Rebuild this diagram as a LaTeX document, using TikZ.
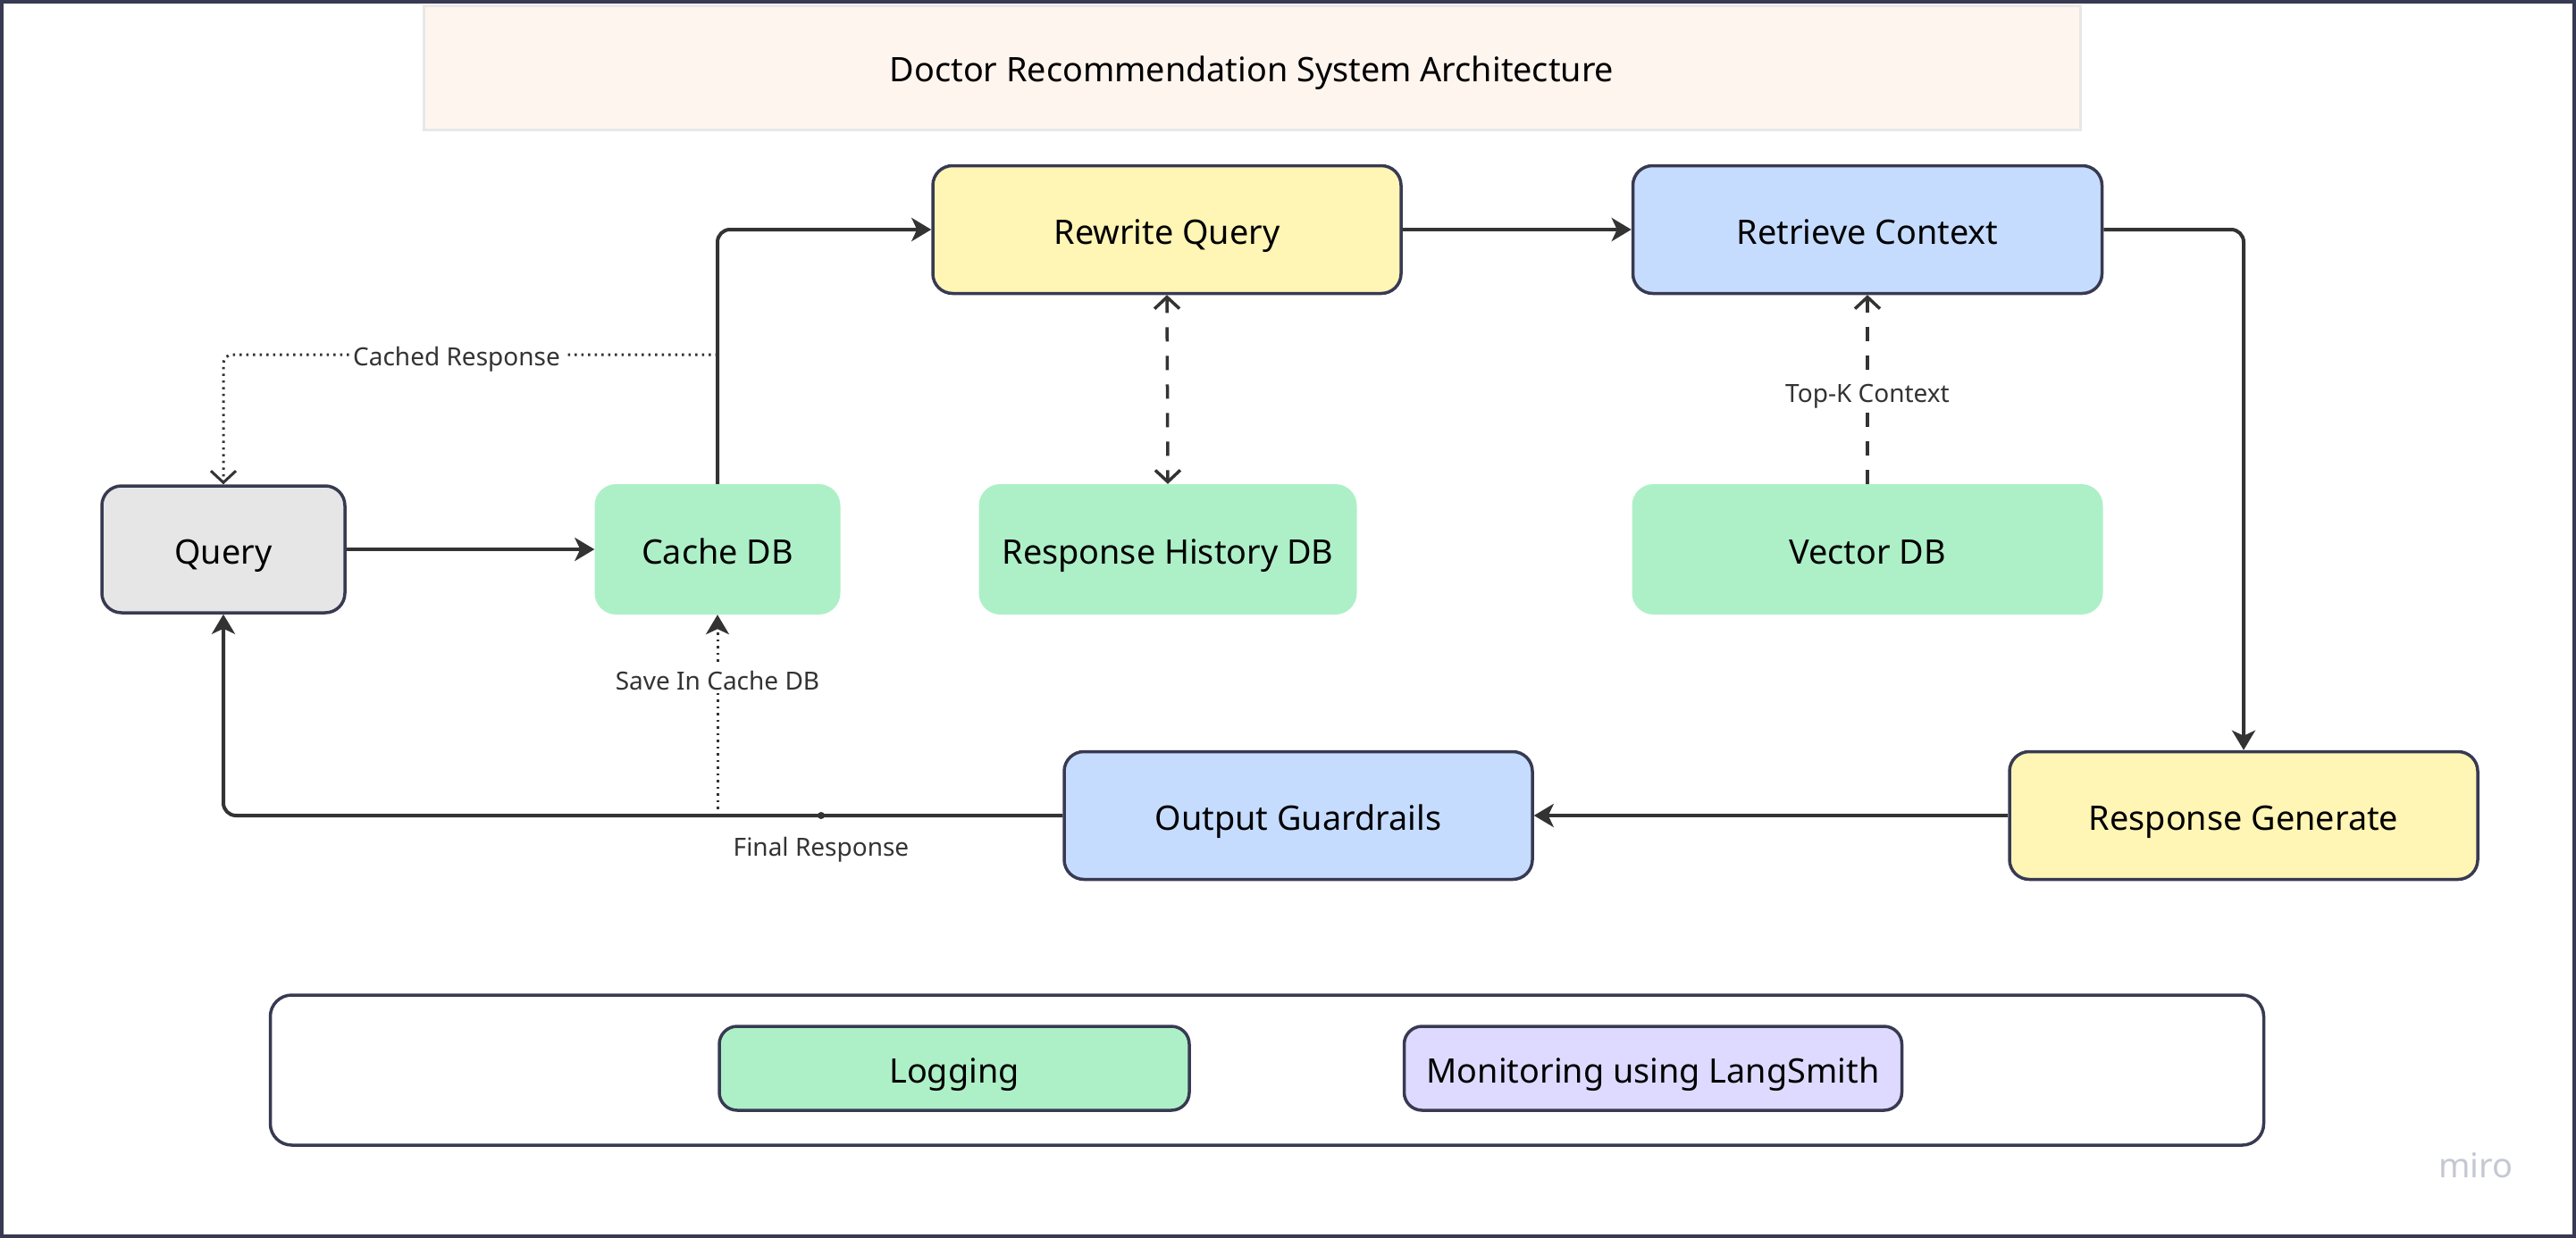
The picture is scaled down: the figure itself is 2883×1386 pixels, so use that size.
\documentclass[tikz,border=0pt]{standalone}
\usepackage{fontspec}
\setmainfont{Noto Sans}
\usetikzlibrary{arrows.meta}
\definecolor{bord}{HTML}{383A52}
\definecolor{arr}{HTML}{333333}
\definecolor{cyel}{HTML}{FFF5B5}
\definecolor{cblue}{HTML}{C6DCFF}
\definecolor{cgreen}{HTML}{ADF0C7}
\definecolor{cgray}{HTML}{E6E6E6}
\definecolor{clav}{HTML}{DEDAFF}
\definecolor{ctitle}{HTML}{FFF5EF}
\definecolor{ctitleb}{HTML}{E8E8E8}
\definecolor{cmiro}{HTML}{C5C8D3}
\tikzset{
  bigtext/.style={font=\fontsize{37.8}{42}\selectfont, text=black, text height=32pt, text depth=0pt},
  box/.style={rectangle, rounded corners=22pt, draw=bord, line width=3.5pt, bigtext, inner sep=0pt},
  dbbox/.style={rectangle, rounded corners=24pt, fill=cgreen, bigtext, inner sep=0pt},
  lbl/.style={font=\fontsize{28}{32}\selectfont, text=arr, fill=white, inner sep=4pt, text height=24pt, text depth=0pt},
  mainarrow/.style={draw=arr, line width=4pt, -{Stealth[length=22pt,width=26pt,inset=6pt]}},
  dotline/.style={draw=arr, line width=3pt, dash pattern=on 2.5pt off 5pt},
  dashline/.style={draw=arr, line width=3.5pt, dash pattern=on 16pt off 16pt},
  openhead/.tip={Straight Barb[length=13pt,width=28pt]},
  solidhead/.tip={Stealth[length=22pt,width=26pt,inset=6pt]},
}
\begin{document}
\begin{tikzpicture}[x=1pt,y=-1pt]
\useasboundingbox (0,0) rectangle (2883,1386);
\draw[bord, line width=4pt] (2,2) rectangle (2881,1384);

% title
\node[rectangle, fill=ctitle, draw=ctitleb, line width=3pt, minimum width=1854pt, minimum height=139pt,
  bigtext, inner sep=0pt] (title) at (1401,76) {Doctor Recommendation System Architecture};

% nodes
\node[box, fill=cgray, minimum width=272pt, minimum height=142pt] (query) at (250,615) {Query};
\node[dbbox, minimum width=275pt, minimum height=146pt] (cache) at (803,615) {Cache DB};
\node[dbbox, minimum width=423pt, minimum height=146pt] (hist) at (1307,615) {Response History DB};
\node[dbbox, minimum width=527pt, minimum height=146pt] (vector) at (2090,615) {Vector DB};
\node[box, fill=cyel, minimum width=524pt, minimum height=143pt] (rewrite) at (1306,257) {Rewrite Query};
\node[box, fill=cblue, minimum width=525pt, minimum height=143pt] (retrieve) at (2090,257) {Retrieve Context};
\node[box, fill=cblue, minimum width=524pt, minimum height=143pt] (guard) at (1453,913) {Output Guardrails};
\node[box, fill=cyel, minimum width=524pt, minimum height=143pt] (gen) at (2511,913) {Response Generate};

% bottom container
\node[rectangle, rounded corners=24pt, draw=bord, line width=3.5pt, fill=white, minimum width=2231pt, minimum height=168pt] (cont) at (1418,1198) {};
\node[box, fill=cgreen, rounded corners=20pt, minimum width=526pt, minimum height=94pt] (log) at (1068,1196) {Logging};
\node[box, fill=clav, rounded corners=20pt, minimum width=557pt, minimum height=94pt] (mon) at (1850,1196) {Monitoring using LangSmith};

% watermark
\node[font=\fontsize{38}{42}\selectfont\bfseries, text=cmiro] (miro) at (2771,1305) {miro};

% main connectors
\draw[mainarrow] (query.east) -- (cache.west);
\draw[mainarrow, rounded corners=14pt] (cache.north) |- (rewrite.west);
\draw[mainarrow] (rewrite.east) -- (retrieve.west);
\draw[mainarrow, rounded corners=14pt] (retrieve.east) -| (gen.north);
\draw[mainarrow] (gen.west) -- (guard.east);
\draw[mainarrow, rounded corners=14pt] (guard.west) -| (query.south);

% cached response (dotted)
\coordinate (crs) at (803,397);
\draw[dotline, -{openhead}, rounded corners=10pt] (crs) -| (query.north);
\node[lbl] (crl) at (511,397) {Cached Response};

% save in cache (dotted)
\coordinate (svs) at (803,913);
\draw[dotline, -{solidhead}] (svs) -- (cache.south);
\node[lbl] (svl) at (803,760) {Save In Cache DB};

% final response label
\coordinate (frd) at (919,913);
\fill[arr] (frd) circle (4pt);
\node[lbl, fill=none] (frl) at (919,946) {Final Response};

% history (dashed, both ends)
\draw[dashline, {openhead}-{openhead}] (rewrite.south) -- (hist.north);

% top-k (dashed)
\draw[dashline, -{openhead}] (vector.north) -- (retrieve.south);
\node[lbl, inner sep=2pt] (tkl) at (2090,438) {Top-K Context};
\end{tikzpicture}
\end{document}
